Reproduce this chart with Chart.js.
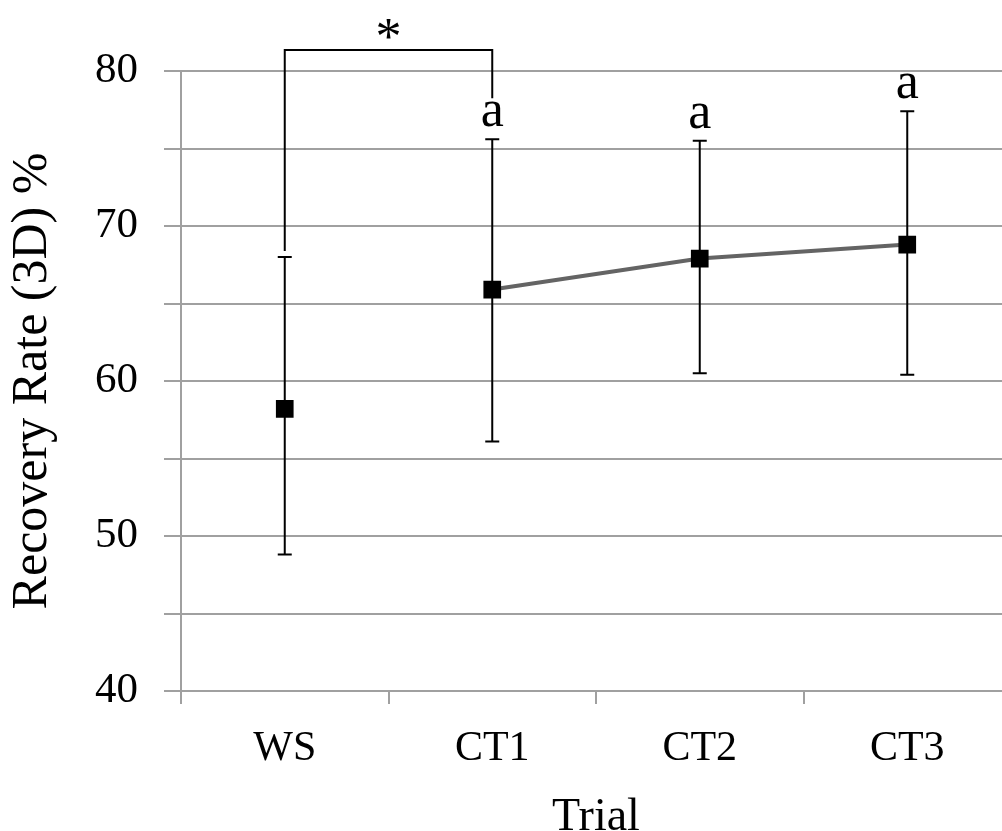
<!DOCTYPE html>
<html>
<head>
<meta charset="utf-8">
<script src="https://cdn.jsdelivr.net/npm/chart.js@4"></script>
<style>
  html, body { margin: 0; background: #fff; overflow: hidden; }
  canvas { display: block; }
</style>
</head>
<body>
<!-- a bit wider than the window: the plot runs past the right edge in the original -->
<canvas id="chart" width="1011" height="831"></canvas>
<script>
// data
const trials = ['WS', 'CT1', 'CT2', 'CT3'];
const recovery = [58.2, 65.9, 67.9, 68.8];
const errLow = [48.8, 56.1, 60.5, 60.4];
const errHigh = [68.0, 75.6, 75.5, 77.4];
const letters = ['', 'a', 'a', 'a'];
const yTicks = [40, 50, 60, 70, 80];
// significance bracket between WS and CT1
const bracketFrom = 0, bracketTo = 1, bracketLevel = 81.35, bracketMark = '*';

const serif = '"Liberation Serif", "Times New Roman", serif';

const errorBars = {
    id: 'errorBars',
    beforeDatasetsDraw(chart) {
        const ctx = chart.ctx;
        const x = chart.scales.x, y = chart.scales.y;
        ctx.save();
        ctx.strokeStyle = '#000';
        ctx.lineWidth = 2;
        trials.forEach((t, i) => {
            const px = x.getPixelForValue(i);
            const top = y.getPixelForValue(errHigh[i]);
            const bot = y.getPixelForValue(errLow[i]);
            ctx.beginPath();
            ctx.moveTo(px, top); ctx.lineTo(px, bot);
            ctx.moveTo(px - 7, top); ctx.lineTo(px + 7, top);
            ctx.moveTo(px - 7, bot); ctx.lineTo(px + 7, bot);
            ctx.stroke();
        });
        ctx.restore();
    },
    afterDatasetsDraw(chart) {
        const ctx = chart.ctx;
        const x = chart.scales.x, y = chart.scales.y;
        ctx.save();
        ctx.fillStyle = '#000';
        ctx.font = '52px ' + serif;
        ctx.textAlign = 'center';
        ctx.textBaseline = 'alphabetic';
        letters.forEach((l, i) => {
            if (!l) return;
            ctx.fillText(l, x.getPixelForValue(i), y.getPixelForValue(errHigh[i]) - 13);
        });
        // bracket
        const x0 = x.getPixelForValue(bracketFrom), x1 = x.getPixelForValue(bracketTo);
        const yb = y.getPixelForValue(bracketLevel);
        ctx.strokeStyle = '#000';
        ctx.lineWidth = 2;
        ctx.beginPath();
        ctx.moveTo(x0, y.getPixelForValue(errHigh[bracketFrom]) - 6);
        ctx.lineTo(x0, yb);
        ctx.lineTo(x1, yb);
        ctx.lineTo(x1, y.getPixelForValue(errHigh[bracketTo]) - 41);
        ctx.stroke();
        ctx.font = '52px ' + serif;
        ctx.fillText(bracketMark, (x0 + x1) / 2, yb + 4);
        ctx.restore();
    }
};

new Chart(document.getElementById('chart'), {
    type: 'line',
    data: {
        labels: trials,
        datasets: [{
            data: recovery,
            borderColor: '#646464',
            borderWidth: 4,
            pointStyle: 'rect',
            pointRadius: 12.5,
            pointBorderWidth: 0,
            pointBackgroundColor: '#000',
            segment: {
                borderColor: c => c.p0DataIndex === 0 ? 'rgba(0,0,0,0)' : '#646464'
            }
        }]
    },
    options: {
        responsive: false,
        animation: false,
        layout: { autoPadding: false, padding: { top: 71, right: 0, left: 0, bottom: 0 } },
        plugins: { legend: { display: false }, tooltip: { enabled: false } },
        scales: {
            x: {
                offset: true,
                grid: { offset: true, drawOnChartArea: false, drawTicks: true, tickLength: 13, color: '#a0a0a0', lineWidth: 2 },
                border: { color: '#a0a0a0', width: 2 },
                ticks: { color: '#000', font: { family: serif, size: 42 }, padding: 20 },
                title: { display: true, text: 'Trial', color: '#000', font: { family: serif, size: 46 }, padding: { top: 0, bottom: -15 } },
                afterFit: s => { s.height = 140; }
            },
            y: {
                min: 40,
                max: 80,
                ticks: {
                    stepSize: 5,
                    color: '#000',
                    font: { family: serif, size: 43 },
                    padding: 26,
                    callback: v => yTicks.includes(v) ? v : ''
                },
                grid: { color: '#a0a0a0', lineWidth: 2, tickLength: 17 },
                border: { color: '#a0a0a0', width: 2 },
                title: { display: true, text: 'Recovery Rate (3D) %', color: '#000', font: { family: serif, size: 50 }, padding: { top: 3, bottom: 0 } },
                afterFit: s => { s.width = 181; }
            }
        }
    },
    plugins: [errorBars]
});
</script>
</body>
</html>
